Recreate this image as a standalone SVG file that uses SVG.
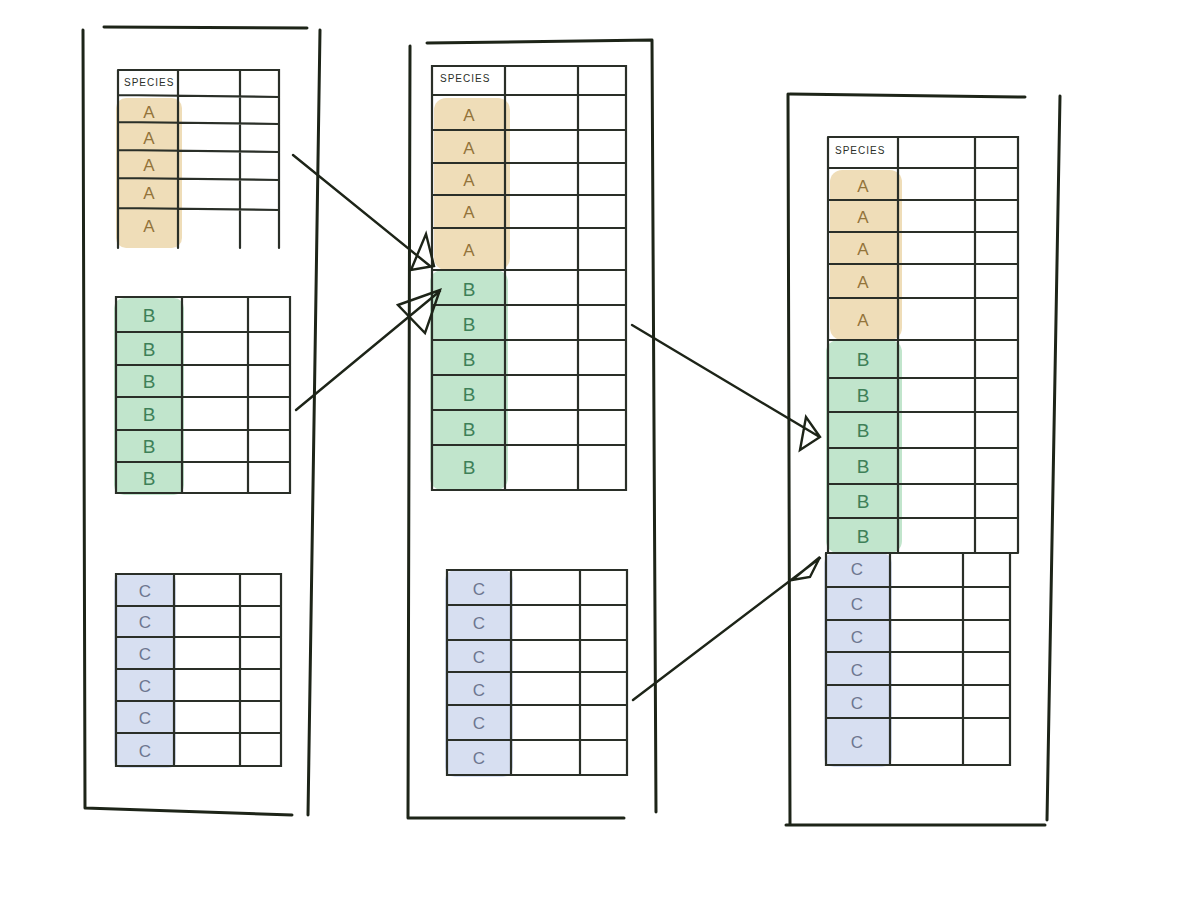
<svg xmlns="http://www.w3.org/2000/svg" width="1200" height="900" viewBox="0 0 1200 900">
<style>
.f{stroke:#1d2418;stroke-width:3;fill:none;stroke-linecap:round}
.t{stroke:#2a2f28;stroke-width:2.2;fill:none;stroke-linecap:round}
.ha{fill:#ecd7ab;opacity:.85}
.hb{fill:#b6e0c3;opacity:.85}
.hc{fill:#d3dbef;opacity:.9}
.la{font-family:'Liberation Sans',sans-serif;font-size:17px;fill:#93743a;text-anchor:middle}
.lb{font-family:'Liberation Sans',sans-serif;font-size:19px;fill:#3e8058;text-anchor:middle}
.lc{font-family:'Liberation Sans',sans-serif;font-size:17px;fill:#6d7690;text-anchor:middle}
.sp{font-family:'Liberation Sans',sans-serif;font-size:10px;fill:#2a2f28;letter-spacing:1px}
.a{stroke:#1d2418;stroke-width:2.4;fill:none;stroke-linecap:round}
</style>
<rect width="1200" height="900" fill="#fff"/>
<g id="panel-left">
<path class="f" d="M104 27L307 28M83 30L85 808M320 30L308 815M85 808L292 815"/>
<g id="table-left-a">
<rect class="ha" x="116" y="98" width="66" height="150" rx="10"/>
<path class="t" d="M118 70L279 70L279 248M118 70L118 248M178 70L178 248M240 70L240 248M118 95L279 97M118 122L279 124M118 150L279 152M118 178L279 180M118 208L279 210"/>
<text class="sp" x="124" y="86">SPECIES</text>
<text class="la" x="149" y="118">A</text><text class="la" x="149" y="144">A</text><text class="la" x="149" y="171">A</text><text class="la" x="149" y="199">A</text><text class="la" x="149" y="232">A</text>
</g>
<g id="table-left-b">
<rect class="hb" x="114" y="298" width="70" height="197" rx="10"/>
<path class="t" d="M116 297L290 297L290 493L116 493ZM182 297L182 493M248 297L248 493M116 332L290 332M116 365L290 365M116 397L290 397M116 430L290 430M116 462L290 462"/>
<text class="lb" x="149" y="322">B</text><text class="lb" x="149" y="356">B</text><text class="lb" x="149" y="388">B</text><text class="lb" x="149" y="421">B</text><text class="lb" x="149" y="453">B</text><text class="lb" x="149" y="485">B</text>
</g>
<g id="table-left-c">
<rect class="hc" x="114" y="574" width="62" height="194" rx="8"/>
<path class="t" d="M116 574L281 574L281 766L116 766ZM174 574L174 766M240 574L240 766M116 606L281 606M116 637L281 637M116 669L281 669M116 701L281 701M116 733L281 733"/>
<text class="lc" x="145" y="597">C</text><text class="lc" x="145" y="628">C</text><text class="lc" x="145" y="660">C</text><text class="lc" x="145" y="692">C</text><text class="lc" x="145" y="724">C</text><text class="lc" x="145" y="757">C</text>
</g>
</g>
<g id="panel-middle">
<path class="f" d="M427 43L652 40M410 46L408 818M652 40L656 812M408 818L624 818"/>
<g id="table-middle-ab">
<rect class="ha" x="434" y="98" width="76" height="172" rx="12"/>
<rect class="hb" x="430" y="270" width="78" height="220" rx="12"/>
<path class="t" d="M432 66L626 66L626 490L432 490ZM505 66L505 490M578 66L578 490M432 95L626 95M432 130L626 130M432 163L626 163M432 195L626 195M432 228L626 228M432 270L626 270M432 305L626 305M432 340L626 340M432 375L626 375M432 410L626 410M432 445L626 445"/>
<text class="sp" x="440" y="82">SPECIES</text>
<text class="la" x="469" y="121">A</text><text class="la" x="469" y="154">A</text><text class="la" x="469" y="186">A</text><text class="la" x="469" y="218">A</text><text class="la" x="469" y="256">A</text>
<text class="lb" x="469" y="296">B</text><text class="lb" x="469" y="331">B</text><text class="lb" x="469" y="366">B</text><text class="lb" x="469" y="401">B</text><text class="lb" x="469" y="436">B</text><text class="lb" x="469" y="474">B</text>
</g>
<g id="table-middle-c">
<rect class="hc" x="445" y="570" width="68" height="207" rx="10"/>
<path class="t" d="M447 570L627 570L627 775L447 775ZM511 570L511 775M580 570L580 775M447 605L627 605M447 640L627 640M447 672L627 672M447 705L627 705M447 740L627 740"/>
<text class="lc" x="479" y="595">C</text><text class="lc" x="479" y="629">C</text><text class="lc" x="479" y="663">C</text><text class="lc" x="479" y="696">C</text><text class="lc" x="479" y="729">C</text><text class="lc" x="479" y="764">C</text>
</g>
</g>
<g id="panel-right">
<path class="f" d="M790 94L1025 97M788 94L790 825M1060 96L1047 820M786 825L1045 825"/>
<g id="table-right-abc">
<rect class="ha" x="830" y="170" width="72" height="170" rx="12"/>
<rect class="hb" x="826" y="340" width="76" height="213" rx="12"/>
<rect class="hc" x="824" y="553" width="68" height="214" rx="10"/>
<path class="t" d="M828 137L1018 137L1018 553M828 137L828 553M898 137L898 553M975 137L975 553M828 168L1018 168M828 200L1018 200M828 232L1018 232M828 264L1018 264M828 298L1018 298M828 340L1018 340M828 378L1018 378M828 412L1018 412M828 448L1018 448M828 484L1018 484M828 518L1018 518M826 553L1018 553"/>
<path class="t" d="M826 553L826 765L1010 765L1010 553M890 553L890 765M963 553L963 765M826 587L1010 587M826 620L1010 620M826 652L1010 652M826 685L1010 685M826 718L1010 718"/>
<text class="sp" x="835" y="154">SPECIES</text>
<text class="la" x="863" y="192">A</text><text class="la" x="863" y="223">A</text><text class="la" x="863" y="255">A</text><text class="la" x="863" y="288">A</text><text class="la" x="863" y="326">A</text>
<text class="lb" x="863" y="366">B</text><text class="lb" x="863" y="402">B</text><text class="lb" x="863" y="437">B</text><text class="lb" x="863" y="473">B</text><text class="lb" x="863" y="508">B</text><text class="lb" x="863" y="543">B</text>
<text class="lc" x="857" y="575">C</text><text class="lc" x="857" y="610">C</text><text class="lc" x="857" y="643">C</text><text class="lc" x="857" y="676">C</text><text class="lc" x="857" y="709">C</text><text class="lc" x="857" y="748">C</text>
</g>
</g>
<g id="connectors">
<path class="a" d="M293 155L430 266M411 270L426 234L434 266Z"/>
<path class="a" d="M296 410L440 291M398 305L440 290L425 333Z"/>
<path class="a" d="M632 325L818 436M800 450L806 417L820 437Z"/>
<path class="a" d="M633 700L820 558M792 580L820 557L810 577Z"/>
</g>
</svg>
